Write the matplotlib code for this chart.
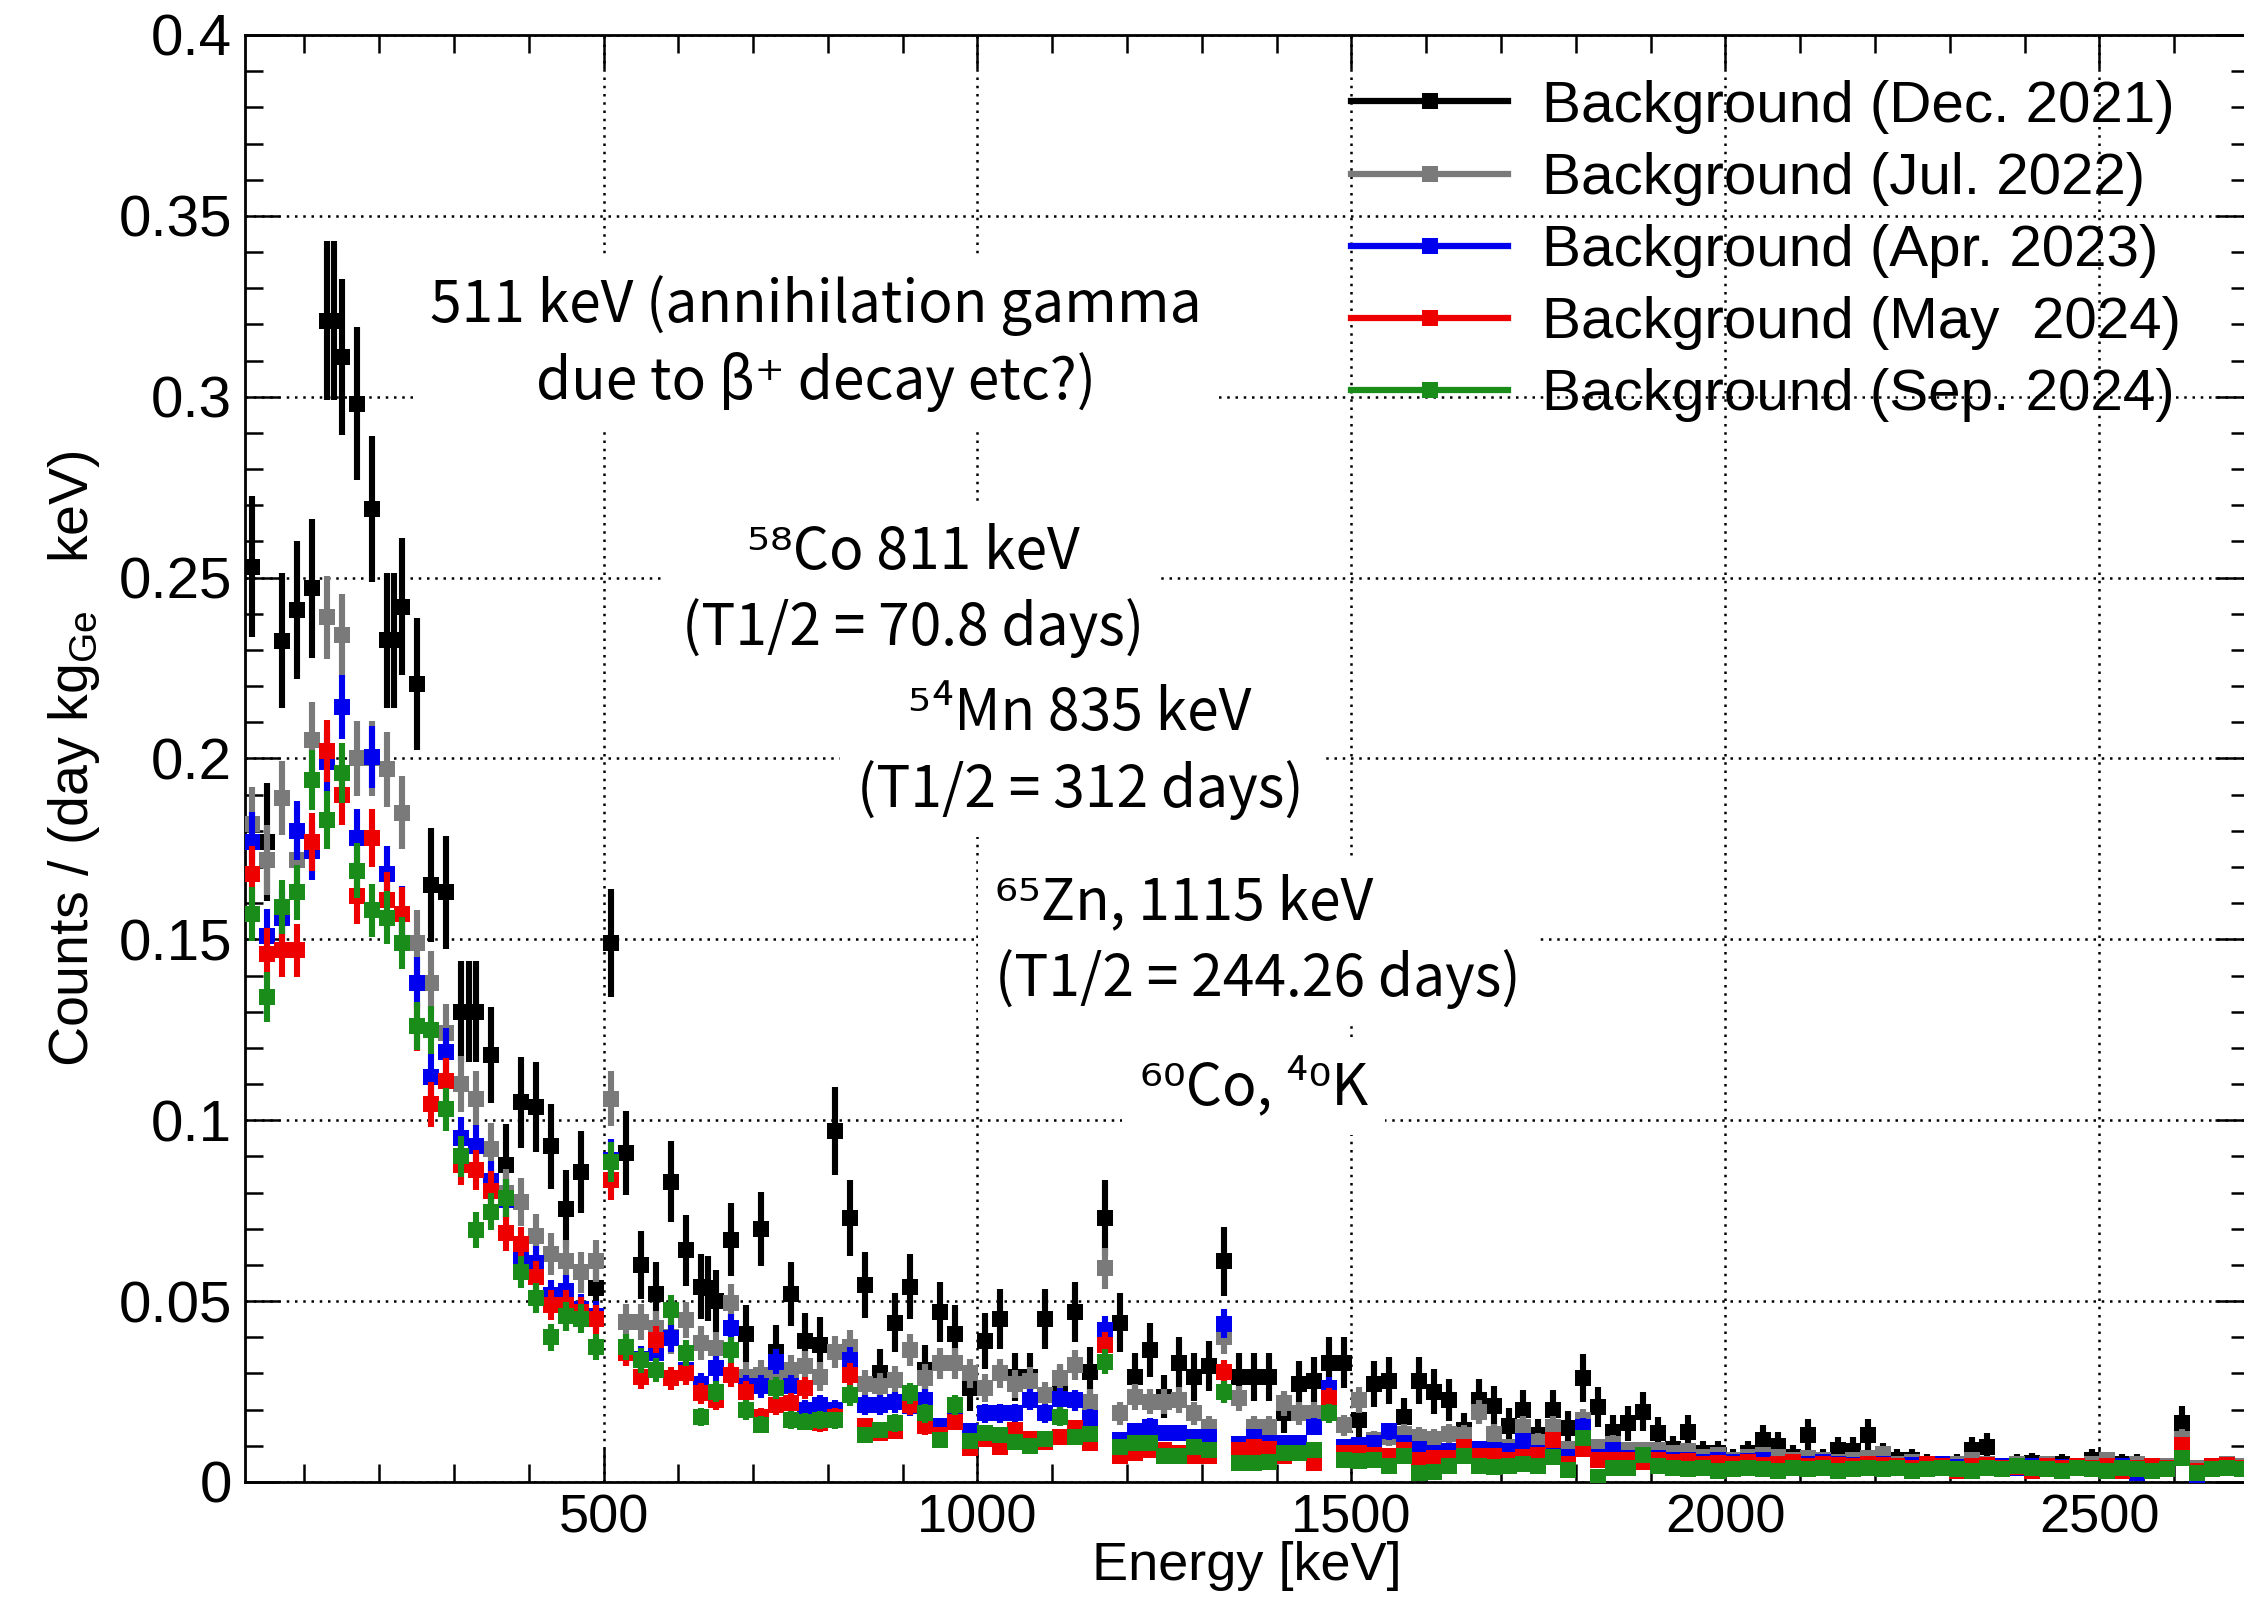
import numpy as np
import matplotlib.pyplot as plt
from matplotlib.lines import Line2D
from matplotlib.ticker import MultipleLocator, FuncFormatter

plt.rcParams['font.family'] = ['Liberation Sans', 'DejaVu Sans']

# 20 keV bins starting at 20 keV (bin centres 30 ... 2690 keV)
bin_width = 20.0
energy = np.arange(20, 2700, 20) + bin_width / 2

# counts / (day kg_Ge keV)
dec2021 = [
    .253, .177, .2325, .241, .247, .321, .311, .298, .269, .2327,
    .242, .2206, .165, .163, .130, .130, .118, .0876, .105, .1037,
    .0928, .0755, .0857, .0535, .149, .091, .060, .052, .083, .064,
    .054, .050, .067, .041, .070, .036, .052, .039, .038, .097,
    .073, .0545, .030, .044, .054, .031, .047, .041, .026, .039,
    .045, .029, .029, .045, .026, .047, .0305, .073, .044, .029,
    .0365, .0236, .033, .029, .032, .061, .029, .029, .029, .019,
    .027, .028, .033, .033, .017, .027, .028, .018, .028, .025,
    .0227, .0144, .0227, .021, .0156, .0199, .013, .0199, .0149, .0287,
    .0208, .0139, .0162, .0194, .0135, .009, .0139, .008, .008, .006,
    .008, .0116, .010, .007, .013, .006, .0088, .0087, .013, .0075,
    .006, .006, .005, .004, .005, .0088, .0098, .004, .005, .0053,
    .004, .005, .004, .006, .004, .005, .005, .003, .004, .0162,
    .003, .004, .004, .004,
]
# a few extra Dec. 2021 points sitting between the regular bins
dec2021_extra_e = [140, 220, 320, 640]
dec2021_extra = [.321, .2327, .130, .0535]

jul2022 = [
    .182, .172, .189, .172, .205, .239, .234, .200, .200, .197,
    .185, .149, .138, .124, .110, .106, .092, .080, .0774, .068,
    .063, .0612, .058, .0612, .106, .0443, .0443, .0425, .040, .0448,
    .0384, .037, .0494, .0291, .0296, .0305, .031, .032, .0291, .036,
    .0374, .027, .0264, .0282, .0365, .0287, .0328, .0328, .030, .026,
    .030, .027, .028, .024, .0287, .0323, .0222, .0591, .019, .0235,
    .0222, .0222, .0226, .019, .0153, .0402, .0231, .0153, .0153, .0217,
    .019, .019, .024, .0157, .0226, .0116, .0125, .0134, .0125, .012,
    .0134, .013, .0194, .0134, .0097, .0153, .011, .0153, .009, .017,
    .0097, .0106, .0088, .0088, .0088, .008, .0085, .007, .0075, .006,
    .007, .0075, .007, .006, .0065, .006, .0055, .006, .0065, .0077,
    .005, .0055, .005, .0045, .005, .006, .005, .0045, .005, .0045,
    .005, .004, .0045, .005, .006, .0045, .005, .004, .0045, .012,
    .004, .0045, .005, .0045,
]

apr2023 = [
    .177, .151, .156, .180, .1745, .199, .2143, .178, .2005, .168,
    .157, .138, .112, .119, .095, .0928, .0831, .078, .0619, .0606,
    .0516, .0529, .0477, .0458, .089, .036, .034, .0356, .0398, .031,
    .027, .0314, .0425, .0264, .0264, .0333, .0264, .0199, .0213, .020,
    .0337, .0213, .0213, .022, .021, .0227, .0154, .018, .014, .019,
    .019, .019, .0227, .019, .023, .0226, .0176, .042, .0116, .014,
    .0153, .0135, .0135, .0125, .0125, .0438, .0105, .0125, .0107, .0107,
    .0107, .0153, .0259, .0098, .0102, .0107, .014, .0107, .009, .008,
    .0085, .009, .009, .0088, .0085, .0112, .008, .0085, .007, .0153,
    .007, .0088, .0065, .0065, .0065, .006, .0062, .0055, .006, .0055,
    .0058, .006, .005, .0055, .005, .0055, .005, .0048, .005, .005,
    .0045, .0048, .0045, .005, .0042, .0045, .004, .0045, .004, .0045,
    .004, .0042, .004, .0035, .004, .0045, .0025, .004, .004, .0095,
    .002, .004, .004, .0035,
]

may2024 = [
    .168, .146, .147, .147, .177, .202, .190, .162, .178, .161,
    .157, .126, .1044, .1108, .0876, .0863, .0805, .0689, .0657, .0567,
    .049, .049, .047, .045, .0835, .0356, .029, .0393, .0287, .030,
    .0245, .0227, .0296, .025, .018, .0213, .0218, .026, .0163, .018,
    .0296, .0154, .0135, .014, .0213, .0154, .013, .0167, .0094, .012,
    .0098, .0144, .012, .011, .0125, .0149, .0107, .0379, .0071, .008,
    .0089, .0089, .008, .0071, .0071, .0305, .0089, .0098, .009, .0071,
    .008, .0052, .0231, .008, .008, .0075, .0071, .0089, .006, .0065,
    .0065, .0098, .0071, .0071, .006, .007, .0075, .0116, .005, .009,
    .006, .0062, .006, .0055, .006, .0055, .0058, .005, .0052, .005,
    .0055, .0048, .005, .0055, .0045, .005, .0048, .0045, .005, .0048,
    .0045, .004, .005, .0045, .003, .0045, .0048, .004, .0042, .003,
    .0045, .004, .0045, .004, .0045, .003, .004, .0045, .004, .0102,
    .003, .0045, .0048, .004,
]

sep2024 = [
    .157, .134, .159, .163, .194, .183, .196, .169, .158, .156,
    .149, .126, .125, .103, .090, .0696, .0747, .0786, .058, .0509,
    .040, .0458, .0451, .0374, .0885, .0374, .0337, .031, .0476, .0356,
    .018, .025, .0365, .0199, .0158, .026, .0172, .0167, .0172, .017,
    .024, .013, .0144, .0163, .0245, .019, .0117, .0213, .0112, .0135,
    .013, .011, .010, .012, .0181, .0125, .0134, .0333, .0098, .0107,
    .0107, .0071, .0071, .0098, .0089, .0249, .0052, .0052, .0055, .008,
    .008, .0089, .019, .0061, .0057, .0061, .0043, .0071, .0025, .0029,
    .0043, .0071, .0043, .0042, .0045, .005, .0045, .007, .0033, .0121,
    .0015, .004, .004, .0075, .0045, .004, .0035, .004, .003, .0035,
    .004, .0035, .003, .004, .0035, .004, .003, .0035, .004, .0035,
    .004, .003, .0035, .004, .0035, .003, .004, .0035, .0045, .004,
    .0035, .003, .004, .0035, .003, .004, .0035, .003, .0035, .0065,
    .0025, .0035, .004, .0035,
]

labels = ['Background (Dec. 2021)', 'Background (Jul. 2022)', 'Background (Apr. 2023)',
          'Background (May  2024)', 'Background (Sep. 2024)']
colors = ['black', '#7a7a7a', '#0000ee', '#ee0000', '#1a8c1a']
# variance per unit rate (1 / exposure), from the error-bar lengths
var_per_rate = [0.0015, 0.00055, 0.00037, 0.00036, 0.00035]

notes = [
    ('511 keV (annihilation gamma\ndue to β⁺ decay etc?)', 0.2851, 0.7868, 'center'),
    ('⁵⁸Co 811 keV\n(T1/2 = 70.8 days)', 0.3335, 0.6161, 'center'),
    ('⁵⁴Mn 835 keV\n(T1/2 = 312 days)', 0.4169, 0.5042, 'center'),
    ('⁶⁵Zn, 1115 keV\n(T1/2 = 244.26 days)', 0.3742, 0.3735, 'left'),
    ('⁶⁰Co, ⁴⁰K', 0.5034, 0.2726, 'center'),
]

fig = plt.figure(figsize=(22.44, 16.05), dpi=100)
ax = fig.add_axes([0.10896, 0.07664, 0.89327, 0.90156])

pt_style = dict(fmt='s', ms=11, mew=0, elinewidth=4.4, capsize=0)
series = [dec2021, jul2022, apr2023, may2024, sep2024]
for i, (vals, c, k) in enumerate(zip(series, colors, var_per_rate)):
    vals = np.asarray(vals)
    ax.errorbar(energy, vals, xerr=bin_width / 2, yerr=np.sqrt(vals * k),
                color=c, zorder=3 + i, **pt_style)
    if i == 0:
        ex = np.asarray(dec2021_extra)
        ax.errorbar(dec2021_extra_e, ex, xerr=bin_width / 2, yerr=np.sqrt(ex * k),
                    color=c, zorder=3, **pt_style)

ax.set_xlim(20, 2700)
ax.set_ylim(0, 0.4)
ax.xaxis.set_major_locator(MultipleLocator(500))
ax.xaxis.set_minor_locator(MultipleLocator(100))
ax.yaxis.set_major_locator(MultipleLocator(0.05))
ax.yaxis.set_minor_locator(MultipleLocator(0.01))
ax.yaxis.set_major_formatter(FuncFormatter(lambda v, p: '%g' % round(v, 3)))
ax.tick_params(which='both', direction='in', top=True, right=True, width=1.8)
ax.tick_params(which='major', length=24.5)
ax.tick_params(which='minor', length=13)
ax.tick_params(axis='x', pad=8, labelsize=39)
ax.tick_params(axis='y', pad=9, labelsize=42)
for s in ax.spines.values():
    s.set_linewidth(2)

ax.grid(True, which='major', color='black', linestyle=(0, (1, 2.3)), linewidth=1.8)
ax.set_axisbelow(True)

ax.set_xlabel('Energy [keV]', fontsize=39)
ax.xaxis.set_label_coords(0.5, -0.0405)
ax.set_ylabel(r'Counts / (day kg$_{\mathregular{Ge}}$   keV)', fontsize=40)
ax.yaxis.set_label_coords(-0.071, 0.5)

for txt, x, y, ha in notes:
    ax.text(x, y, txt, transform=ax.transAxes, ha='center' if ha == 'center' else 'left',
            va='center', multialignment=ha, fontsize=41, linespacing=1.35,
            family=['Noto Sans CJK JP', 'DejaVu Sans'], zorder=10,
            bbox=dict(boxstyle='square,pad=0.3', fc='white', ec='none'))

handles = [Line2D([], [], color=c, lw=4.5, marker='s', ms=11, mew=0) for c in colors]
ax.legend(handles, labels, loc='upper left', bbox_to_anchor=(0.552, 0.969),
          frameon=False, fontsize=42, handlelength=2.7, handletextpad=0.57,
          labelspacing=0.31, borderpad=0, borderaxespad=0)

fig.savefig('out.png', dpi=100)
